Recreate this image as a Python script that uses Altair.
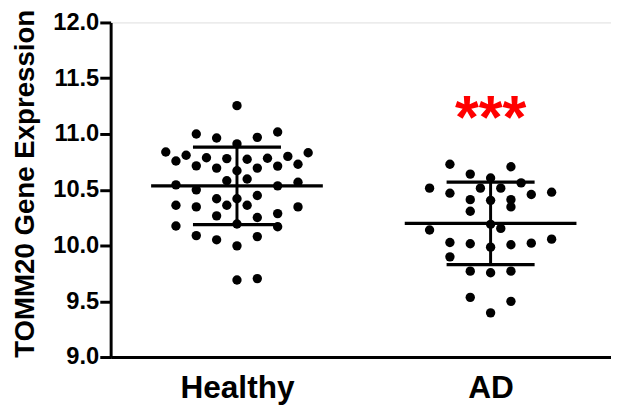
import altair as alt
import pandas as pd

# ---- data ----
categories = ["Healthy", "AD"]

healthy_values = [11.254, 11.000, 10.964, 10.970, 11.018, 10.911, 10.838, 10.832, 10.809,
                  10.758, 10.787, 10.779, 10.773, 10.782, 10.799, 10.714, 10.694, 10.694,
                  10.712, 10.729, 10.670, 10.581, 10.596, 10.544, 10.499, 10.535, 10.567,
                  10.419, 10.448, 10.419, 10.361, 10.346, 10.361, 10.361, 10.346, 10.266,
                  10.251, 10.286, 10.175, 10.193, 10.168, 10.089, 10.051, 10.080, 9.997,
                  9.691, 9.703]
healthy_slots = [0, -4, -2, 2, 4, 0, -7, 7, -5,
                 -6, -3, -1, 1, 3, 5, -4, -2, 2,
                 4, 6, 0, -1, 1, -6, -4, 4, 6,
                 -2, 2, 0, -6, -4, -1, 1, 6, -2,
                 2, 4, -6, 0, 4, -4, -2, 2, 0,
                 0, 2]

ad_values = [10.729, 10.706, 10.640, 10.605, 10.561, 10.514, 10.514, 10.514, 10.469,
             10.457, 10.478, 10.411, 10.405, 10.411, 10.346, 10.307, 10.190, 10.139,
             10.153, 10.027, 10.016, 9.985, 10.007, 10.021, 10.057, 9.898, 9.770,
             9.756, 9.770, 9.535, 9.499, 9.396]
ad_slots = [-4, 2, -2, 0, 3, -6, -1, 1, -4,
            4, 6, -2, 0, 2, 2, -2, 0, -6,
            1, -4, -2, 0, 2, 4, 6, -4, -2,
            0, 2, -2, 2, 0]

group_means = [10.535, 10.198]
group_sds = [0.347, 0.370]

y_ticks = [9.0, 9.5, 10.0, 10.5, 11.0, 11.5, 12.0]
star_text = "***"
star_group = 2
star_y = 11.2

# ---- layout constants ----
SLOT = 0.0401       # horizontal spacing of swarm columns (x units)
MEAN_HALF = 0.3385  # half length of mean line
CAP_HALF = 0.1735   # half length of SD caps
X_DOMAIN = [0.5019, 2.4747]
FONT = "Liberation Sans"

pts = pd.DataFrame(
    [{"g": 1, "value": v, "pos": 1 + s * SLOT} for v, s in zip(healthy_values, healthy_slots)]
    + [{"g": 2, "value": v, "pos": 2 + s * SLOT} for v, s in zip(ad_values, ad_slots)]
)
summ = pd.DataFrame({"g": [1, 2], "mean": group_means, "sd": group_sds})
stars = pd.DataFrame({"g": [star_group], "y": [star_y], "t": [star_text]})

label_expr = "datum.value == 1 ? '%s' : '%s'" % (categories[0], categories[1])

xscale = alt.Scale(domain=X_DOMAIN, nice=False, zero=False)
yscale = alt.Scale(domain=[9, 12], nice=False, zero=False)

xaxis = alt.Axis(values=[1, 2], labelExpr=label_expr, title=None, grid=False,
                 ticks=False, tickSize=0, labelFont=FONT, labelFontSize=32,
                 labelFontWeight="bold", labelColor="black", labelPadding=16,
                 domainColor="black", domainWidth=3)
yaxis = alt.Axis(values=y_ticks, format=".1f", title="TOMM20 Gene Expression", grid=False,
                 tickSize=11, tickWidth=3, tickColor="black", domainColor="black",
                 domainWidth=3, labelFont=FONT, labelFontSize=24, labelFontWeight="bold",
                 labelColor="black", labelPadding=1, titleFont=FONT, titleFontSize=28,
                 titleFontWeight="bold", titleColor="black", titleX=-78, titleY=163,
                 titleBaseline="alphabetic", titleAlign="center", titleAngle=270)

points = alt.Chart(pts).mark_circle(size=90, color="black", opacity=1).encode(
    x=alt.X("pos:Q", scale=xscale, axis=xaxis),
    y=alt.Y("value:Q", scale=yscale, axis=yaxis),
)

base = alt.Chart(summ).transform_calculate(
    lo="datum.mean - datum.sd", hi="datum.mean + datum.sd",
    ml="datum.g - %f" % MEAN_HALF, mr="datum.g + %f" % MEAN_HALF,
    cl="datum.g - %f" % CAP_HALF, cr="datum.g + %f" % CAP_HALF,
)

mean_line = base.mark_rule(color="black", strokeWidth=3.3).encode(
    x=alt.X("ml:Q", scale=xscale), x2="mr:Q", y=alt.Y("mean:Q", scale=yscale))
cap_hi = base.mark_rule(color="black", strokeWidth=3.3).encode(
    x=alt.X("cl:Q", scale=xscale), x2="cr:Q", y=alt.Y("hi:Q", scale=yscale))
cap_lo = base.mark_rule(color="black", strokeWidth=3.3).encode(
    x=alt.X("cl:Q", scale=xscale), x2="cr:Q", y=alt.Y("lo:Q", scale=yscale))
vert = base.mark_rule(color="black", strokeWidth=3).encode(
    x=alt.X("g:Q", scale=xscale), y=alt.Y("lo:Q", scale=yscale), y2="hi:Q")

star = alt.Chart(stars).mark_text(color="#ff0000", font=FONT, fontSize=62, fontWeight="bold",
                                  align="center", baseline="middle", dy=8).encode(
    x=alt.X("g:Q", scale=xscale), y=alt.Y("y:Q", scale=yscale), text="t:N")

chart = alt.layer(points, mean_line, cap_hi, cap_lo, vert, star).properties(
    width=507, height=339,
    autosize=alt.AutoSizeParams(type="none"),
    padding={"left": 104, "top": 12, "right": 0, "bottom": 48},
).configure_view(stroke=None).configure(background="white")

chart.save("out.html", embed_options={"renderer": "svg", "actions": False})
